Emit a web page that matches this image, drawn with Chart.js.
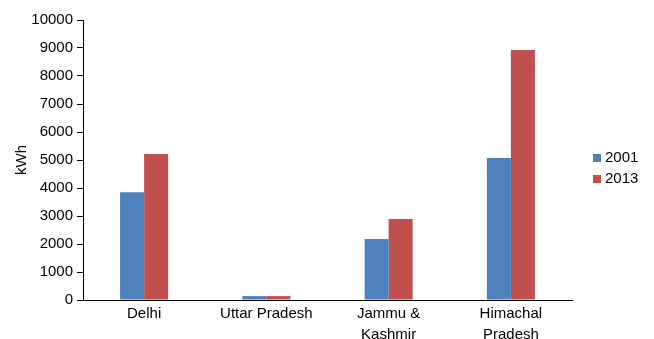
<!DOCTYPE html>
<html>
<head>
<meta charset="utf-8">
<script src="https://cdn.jsdelivr.net/npm/chart.js@4/dist/chart.umd.min.js"></script>
<style>
  html, body { margin: 0; padding: 0; background: #fff; }
  #wrap { width: 654px; height: 339px; }
</style>
</head>
<body>
<div id="wrap"><canvas id="c" width="654" height="339"></canvas></div>
<script>
// Per-capita electricity consumption by state
const categories = [['Delhi'], ['Uttar Pradesh'], ['Jammu &', 'Kashmir'], ['Himachal', 'Pradesh']];
const seriesNames = ['2001', '2013'];
const values2001 = [3850, 140, 2180, 5070];
const values2013 = [5210, 140, 2890, 8930];
const yTicks = [0, 1000, 2000, 3000, 4000, 5000, 6000, 7000, 8000, 9000, 10000];

const FONT = 'Liberation Sans, Arial, sans-serif';
const colors = ['#4F81BD', '#C0504D'];

// Legend drawn beside the plot, one coloured square per series
const sideLegend = {
  id: 'sideLegend',
  afterDraw(chart) {
    const ctx = chart.ctx;
    ctx.save();
    ctx.font = '15px ' + FONT;
    ctx.textBaseline = 'middle';
    chart.data.datasets.forEach((ds, i) => {
      const y = 158 + i * 21;
      ctx.fillStyle = ds.backgroundColor;
      ctx.fillRect(593, y - 4, 8, 8);
      ctx.fillStyle = '#000';
      ctx.fillText(ds.label, 605, y);
    });
    ctx.restore();
  }
};

new Chart(document.getElementById('c'), {
  type: 'bar',
  data: {
    labels: categories,
    datasets: [
      { label: seriesNames[0], data: values2001, backgroundColor: colors[0] },
      { label: seriesNames[1], data: values2013, backgroundColor: colors[1] }
    ]
  },
  options: {
    responsive: false,
    animation: false,
    layout: { padding: { top: 20, right: 82, bottom: 0, left: 0 } },
    plugins: { legend: { display: false }, tooltip: { enabled: false } },
    datasets: { bar: { categoryPercentage: 0.393, barPercentage: 1.0 } },
    scales: {
      x: {
        grid: { display: false },
        border: { display: true, color: '#000', width: 1 },
        ticks: { color: '#000', font: { family: FONT, size: 15, lineHeight: 1.4 }, padding: -5, maxRotation: 0 },
        afterFit(scale) { scale.height = 39; }
      },
      y: {
        min: 0, max: 10000,
        afterBuildTicks(scale) { scale.ticks = yTicks.map(v => ({ value: v })); },
        grid: { display: true, drawOnChartArea: false, drawTicks: true, tickLength: 6, color: '#000' },
        border: { display: true, color: '#000', width: 1 },
        ticks: { color: '#000', font: { family: FONT, size: 15 }, padding: 4, callback: v => String(v) },
        title: { display: true, text: 'kWh', color: '#000', font: { family: FONT, size: 15 }, padding: { top: 13, bottom: 0 } },
        afterFit(scale) { scale.width = 83; }
      }
    }
  },
  plugins: [sideLegend]
});
</script>
</body>
</html>
